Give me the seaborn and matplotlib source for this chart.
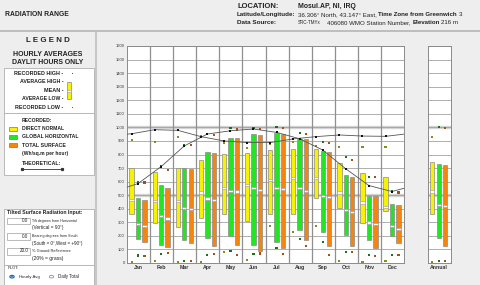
import numpy as np
import pandas as pd
import matplotlib
matplotlib.use("Agg")
import matplotlib.pyplot as plt
import seaborn as sns
from matplotlib.patches import Rectangle, Circle
from matplotlib.lines import Line2D

# ---------------- data (Wh/sq.m per hour) ----------------
months = ["Jan", "Feb", "Mar", "Apr", "May", "Jun", "Jul", "Aug", "Sep", "Oct", "Nov", "Dec"]

dn_avg_high = [698, 674, 698, 760, 804, 809, 833, 841, 838, 735, 662, 637]
dn_avg_low = [360, 294, 262, 331, 360, 306, 360, 360, 478, 404, 294, 380]
dn_mean = [466, 458, 458, 520, 551, 576, 613, 625, 625, 520, 446, 412]
dn_rec_high = [907, 890, 931, 936, 885, 850, 877, 890, 862, 858, 858, 858]
dn_rec_low = [5, 12, 5, 5, 79, 22, 275, 226, 273, 12, 5, 12]

gh_avg_high = [478, 574, 698, 821, 919, 951, 956, 912, 828, 650, 495, 434]
gh_avg_low = [179, 132, 172, 184, 201, 135, 152, 245, 225, 208, 172, 196]
gh_mean = [287, 348, 404, 475, 532, 551, 556, 551, 495, 392, 299, 270]
gh_rec_high = [600, 711, 870, 951, 998, 998, 1005, 960, 894, 779, 637, 527]
gh_rec_low = [56, 69, 12, 61, 88, 66, 108, 179, 157, 81, 61, 61]

ts_avg_high = [466, 556, 691, 814, 919, 944, 949, 912, 821, 632, 495, 429]
ts_avg_low = [152, 115, 147, 123, 132, 86, 110, 172, 123, 123, 110, 147]
ts_mean = [270, 328, 397, 466, 527, 539, 544, 532, 485, 375, 287, 252]
ts_rec_high = [593, 684, 870, 944, 985, 988, 993, 950, 882, 760, 632, 520]
ts_rec_low = [51, 74, 15, 69, 59, 70, 66, 128, 59, 81, 49, 61]

theo_dn = [953, 983, 978, 932, 900, 888, 888, 915, 932, 944, 936, 934]
theo_dn_edges = [950, 950]
theo_gh = [586, 711, 863, 951, 975, 988, 963, 916, 833, 694, 571, 527]
theo_gh_edges = [559, 551]

annual_avg_high = [748, 728, 723]
annual_avg_low = [360, 184, 123]
annual_mean = [527, 429, 422]
annual_rec_high = [931, 1005, 993]
annual_rec_low = [5, 12, 12]

series = ["Direct Normal", "Global Horizontal", "Total Surface"]
bar_colors = {"Direct Normal": "#f6f200", "Global Horizontal": "#22e622", "Total Surface": "#f5850e"}
dot_colors = {"Direct Normal": "#8a8a1a", "Global Horizontal": "#1f6e1f", "Total Surface": "#a0501a"}
offsets = {"Direct Normal": 0.2, "Global Horizontal": 0.48, "Total Surface": 0.76}
BW = 0.19

# ---------------- figure ----------------
sns.set_theme(style="white")
plt.rcParams['font.family'] = ['Liberation Sans', 'DejaVu Sans']

W, H = 480, 285
fig = plt.figure(figsize=(4.8, 2.85), dpi=100, facecolor='#eeeeee')
renderer = fig.canvas.get_renderer()
TXT = '#222222'


def fx(x):
    return x / W


def fy(y):
    return 1 - y / H


def txt(x, y, s, size=3.6, weight='normal', ha='left', va='center', color=TXT):
    return fig.text(fx(x), fy(y), s, fontsize=size, fontweight=weight, ha=ha, va=va, color=color)


def fit(x0, x1, y, s, weight='normal', ha='left', maxsize=6.0):
    t = fig.text(0, 0, s, fontsize=10, fontweight=weight, ha=ha, va='center', color=TXT)
    w = t.get_window_extent(renderer).width
    size = min(10 * (x1 - x0) / w, maxsize)
    t.set_fontsize(size)
    xpos = x0 if ha == 'left' else ((x0 + x1) / 2 if ha == 'center' else x1)
    t.set_position((fx(xpos), fy(y)))
    return t


def rich(x0, x1, y, segs, maxsize=6.0, gap=0.3):
    texts, widths = [], []
    for s, wt in segs:
        t = fig.text(0, 0, s, fontsize=10, fontweight=wt, ha='left', va='center', color=TXT)
        widths.append(t.get_window_extent(renderer).width)
        texts.append(t)
    gap_px10 = gap * 10 * 100 / 72
    total = sum(widths) + gap_px10 * (len(segs) - 1)
    size = min(10 * (x1 - x0) / total, maxsize)
    k = size / 10
    x = x0
    for t, w in zip(texts, widths):
        t.set_fontsize(size)
        t.set_position((fx(x), fy(y)))
        x += (w + gap_px10) * k


def box(x0, y0, x1, y1, fc='white', ec='#b0b0b0', lw=0.6):
    fig.add_artist(Rectangle((fx(x0), fy(y1)), (x1 - x0) / W, (y1 - y0) / H,
                             transform=fig.transFigure, fc=fc, ec=ec, lw=lw))


# header
fig.add_artist(Line2D([0, 1], [fy(31), fy(31)], transform=fig.transFigure, color='#b5b5b5', lw=1.2))
fig.add_artist(Line2D([fx(96), fx(96)], [fy(32), 0], transform=fig.transFigure, color='#c0c0c0', lw=1.2))
fit(5, 68, 15, "RADIATION RANGE", 'bold')
fit(237, 279, 6, "LOCATION:", 'bold')
fit(298, 355, 6, "Mosul.AP, NI, IRQ", 'bold')
fit(237, 296, 14.3, "Latitude/Longitude:", 'bold', maxsize=4.6)
fit(237, 278, 22.3, "Data Source:", 'bold', maxsize=4.6)
rich(298, 476, 14.3, [("36.306° North, 43.147° East,", 'normal'),
                      ("Time Zone from Greenwich", 'bold'), ("3", 'normal')], maxsize=4.4)
fit(298, 321, 22.3, "SRC-TMYx", maxsize=4.4)
rich(327, 476, 22.3, [("406080 WMO Station Number,", 'normal'),
                      ("Elevation", 'bold'), ("216 m", 'normal')], maxsize=4.4)

# legend panel
fit(26.7, 70, 40, "L E G E N D", 'bold', ha='center')
fit(13, 82, 54, "HOURLY AVERAGES", 'bold', ha='center')
fit(12, 83, 62.3, "DAYLIT HOURS ONLY", 'bold', ha='center')
box(4, 68, 94, 112.5)
box(4, 112.5, 94, 175)
for yy, x0, s in [(73.3, 15, "RECORDED HIGH -"), (81.7, 20.7, "AVERAGE HIGH -"), (91, 36, "MEAN -"),
                  (99, 22, "AVERAGE LOW -"), (107.3, 16, "RECORDED LOW -")]:
    fit(x0, 63.5, yy, s, 'bold', ha='right', maxsize=4.0)
box(66.7, 81.7, 71.3, 99.3, fc=bar_colors["Direct Normal"], ec='#888888', lw=0.5)
box(66.7, 90.3, 71.3, 91.7, fc='white', ec='#9a90b0', lw=0.4)
for yy in (73.3, 107.3):
    fig.add_artist(Rectangle((fx(71.5), fy(yy + 0.8)), 1.6 / W, 1.6 / H, transform=fig.transFigure,
                             fc='#555555', ec='none'))
fit(21.7, 51.7, 120, "RECORDED:", 'bold', maxsize=4.0)
for yy, x1, s, k in [(128.7, 64, "DIRECT NORMAL", "Direct Normal"),
                     (136.7, 77.7, "GLOBAL HORIZONTAL", "Global Horizontal"),
                     (145.3, 64.7, "TOTAL SURFACE", "Total Surface")]:
    box(9, yy - 2, 17.3, yy + 2, fc=bar_colors[k], ec='#777777', lw=0.5)
    fit(21.7, x1, yy, s, 'bold', maxsize=4.0)
fit(21.7, 68, 153.3, "(Wh/sq.m per hour)", 'bold', maxsize=4.0)
fit(21.7, 61, 163.3, "THEORETICAL:", 'bold', maxsize=4.0)
fig.add_artist(Line2D([fx(22), fx(62)], [fy(169), fy(169)], transform=fig.transFigure,
                      color='#333333', lw=0.6, marker='s', markersize=1.3, markevery=[0, 1]))

# tilted surface box
box(4, 209, 94, 264.5)
fit(7.3, 82, 212.7, "Tilted Surface Radiation Input:", 'bold', maxsize=4.2)
for (y0, y1), val, l1, x1a, l2, x1b in [
        ((217.7, 224.3), "0.0", "Tilt degrees from Horizontal", 77.7, "(Vertical = 90°)", 63.7),
        ((232.7, 239.7), "0.0", "Bearing degrees from South", 78.3, "(South = 0°,West = +90°)", 83),
        ((247.5, 254.5), "20.0", "% Ground Reflectance", 72, "(20% = grass)", 64)]:
    box(7.3, y0, 30, y1, fc='white', ec='#a0a0a0', lw=0.5)
    txt(28.5, (y0 + y1) / 2, val, 3.3, ha='right')
    fit(32.5, x1a, (y0 + y1) / 2, l1, maxsize=3.8)
    fit(32.5, x1b, y1 + 3.6, l2, maxsize=3.8)
box(4, 265, 94, 290)
fit(8, 19, 268, "PLOT:", maxsize=4.0)
fig.add_artist(Circle((fx(12), fy(276.7)), 2.2 / W, transform=fig.transFigure, fc='white', ec='#1565c0', lw=0.8))
fig.add_artist(Circle((fx(12), fy(276.7)), 1.0 / W, transform=fig.transFigure, fc='#1565c0', ec='none'))
fit(18.7, 40, 276.7, "Hourly Avg", maxsize=4.0)
fig.add_artist(Circle((fx(51.5), fy(276.7)), 2.2 / W, transform=fig.transFigure, fc='white', ec='#909090', lw=0.6))
fit(58, 79, 276.7, "Daily Total", maxsize=4.0)

# ---------------- long-form tables ----------------
rows = []
for i, m in enumerate(months):
    for s, hi, lo, mn, rh, rl in [
        ("Direct Normal", dn_avg_high, dn_avg_low, dn_mean, dn_rec_high, dn_rec_low),
        ("Global Horizontal", gh_avg_high, gh_avg_low, gh_mean, gh_rec_high, gh_rec_low),
        ("Total Surface", ts_avg_high, ts_avg_low, ts_mean, ts_rec_high, ts_rec_low)]:
        rows.append(dict(month=m, idx=i, series=s, high=hi[i], low=lo[i], mean=mn[i],
                         rec_high=rh[i], rec_low=rl[i]))
df = pd.DataFrame(rows)
df["x"] = df["idx"] + df["series"].map(offsets)

ann = pd.DataFrame(dict(series=series, high=annual_avg_high, low=annual_avg_low, mean=annual_mean,
                        rec_high=annual_rec_high, rec_low=annual_rec_low))
ann["x"] = ann["series"].map(offsets)


def style_axes(ax, ncols):
    ax.set_facecolor('white')
    ax.set_ylim(0, 1600)
    ax.set_xlim(0, ncols)
    for v in (500, 1000):
        ax.axhline(v, color='#d4d4d4', lw=2.4, zorder=0)
    for v in range(0, 1700, 100):
        ax.axhline(v, color='#9a9a9a', lw=0.55, zorder=0.5)
    for v in range(1, ncols):
        ax.axvline(v, color='#8f8f8f', lw=0.9, zorder=0.5)
    for sp in ax.spines.values():
        sp.set_color('#8a8a8a')
        sp.set_linewidth(0.7)
        sp.set_visible(True)
    ax.tick_params(length=0, pad=1.5)


def draw_bars(ax, d):
    for s in series:
        sub = d[d["series"] == s]
        ax.bar(sub["x"], sub["high"] - sub["low"], bottom=sub["low"], width=BW,
               color=bar_colors[s], edgecolor='#8c8c8c', linewidth=0.5, zorder=2)
        ax.bar(sub["x"], 16, bottom=sub["mean"] - 8, width=BW,
               color='white', edgecolor='#9a90b0', linewidth=0.4, zorder=3)
    pts = pd.concat([d[["x", "series", "rec_high"]].rename(columns={"rec_high": "v"}),
                     d[["x", "series", "rec_low"]].rename(columns={"rec_low": "v"})])
    sns.scatterplot(data=pts, x="x", y="v", hue="series", palette=dot_colors, marker='s',
                    s=2.5, linewidth=0, legend=False, ax=ax, zorder=4)


ax = fig.add_axes([fx(127), fy(263), (404 - 127) / W, (263 - 46) / H])
style_axes(ax, 12)
draw_bars(ax, df)

# theoretical lines
x_dn = [0] + [i + offsets["Direct Normal"] for i in range(12)] + [12]
y_dn = [theo_dn_edges[0]] + theo_dn + [theo_dn_edges[1]]
x_gh = [0] + [i + offsets["Global Horizontal"] for i in range(12)] + [12]
y_gh = [theo_gh_edges[0]] + theo_gh + [theo_gh_edges[1]]
sns.lineplot(x=x_dn, y=y_dn, ax=ax, color='#555555', lw=0.6, zorder=5)
sns.lineplot(x=x_gh, y=y_gh, ax=ax, color='#555555', lw=0.6, zorder=5)
sns.scatterplot(x=x_dn[1:-1], y=theo_dn, ax=ax, color='#111111', marker='s', s=2.5, linewidth=0, zorder=6)
sns.scatterplot(x=x_gh[1:-1], y=theo_gh, ax=ax, color='#111111', marker='s', s=2.5, linewidth=0, zorder=6)

ax.set_yticks(range(0, 1700, 100))
ax.set_yticklabels([str(v) for v in range(0, 1700, 100)], fontsize=3.0, color='#333333')
ax.set_xticks(np.arange(12) + 0.5)
ax.set_xticklabels(months, fontsize=3.8, fontweight='bold', color='#333333')
ax.set_xlim(0, 12)
ax.set_ylim(0, 1600)
ax.set_xlabel("")
ax.set_ylabel("")

ax2 = fig.add_axes([fx(427.7), fy(263), 23 / W, (263 - 46) / H])
style_axes(ax2, 1)
draw_bars(ax2, ann)
ax2.set_yticks([])
ax2.set_xticks([0.5])
ax2.set_xticklabels(["Annual"], fontsize=3.8, fontweight='bold', color='#333333')
ax2.set_xlim(0, 1)
ax2.set_ylim(0, 1600)
ax2.set_xlabel("")
ax2.set_ylabel("")

fig.savefig("out.png", dpi=100, facecolor=fig.get_facecolor())
